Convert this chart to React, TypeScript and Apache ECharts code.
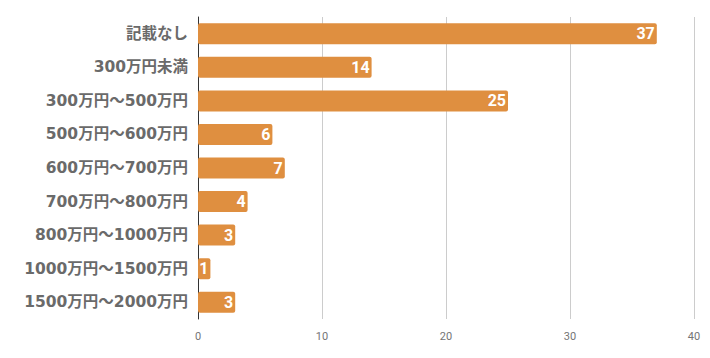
import React, { useEffect, useRef } from "react";
import * as echarts from "echarts";

const categories = [
  "記載なし",
  "300万円未満",
  "300万円～500万円",
  "500万円～600万円",
  "600万円～700万円",
  "700万円～800万円",
  "800万円～1000万円",
  "1000万円～1500万円",
  "1500万円～2000万円",
];
const values = [37, 14, 25, 6, 7, 4, 3, 1, 3];
const xTicks = { min: 0, max: 40, interval: 10 };

export default function App() {
  const ref = useRef<HTMLDivElement>(null);
  useEffect(() => {
    if (!ref.current) return;
    const chart = echarts.init(ref.current, undefined, { renderer: "svg" });
    chart.setOption({
      animation: false,
      grid: { left: 198, right: 16, top: 17, bottom: 39, containLabel: false },
      xAxis: {
        type: "value",
        min: xTicks.min,
        max: xTicks.max,
        interval: xTicks.interval,
        axisLine: { show: false },
        axisTick: { show: false },
        splitLine: { show: true, lineStyle: { color: "#cccccc", width: 1 } },
        axisLabel: {
          color: "#757575",
          fontFamily: "Roboto",
          fontSize: 11,
          margin: 12,
        },
      },
      yAxis: {
        type: "category",
        data: categories,
        inverse: true,
        axisLine: { show: true, lineStyle: { color: "#333333", width: 1 } },
        axisTick: { show: false },
        axisLabel: {
          color: "#6a6a6a",
          fontFamily: "'DejaVu Sans', 'Noto Sans CJK JP'",
          fontWeight: "bold",
          fontSize: 15.5,
          margin: 10,
        },
      },
      series: [
        {
          type: "bar",
          data: values,
          barWidth: 21,
          itemStyle: { color: "#df8f40", borderRadius: 2 },
          label: {
            show: true,
            position: "insideRight",
            distance: 2,
            color: "#ffffff",
            fontFamily: "Roboto",
            fontWeight: "bold",
            fontSize: 16,
          },
        },
      ],
    });
    return () => chart.dispose();
  }, []);
  return <div ref={ref} style={{ width: 710, height: 358, position: "absolute", left: 0, top: 0 }} />;
}
